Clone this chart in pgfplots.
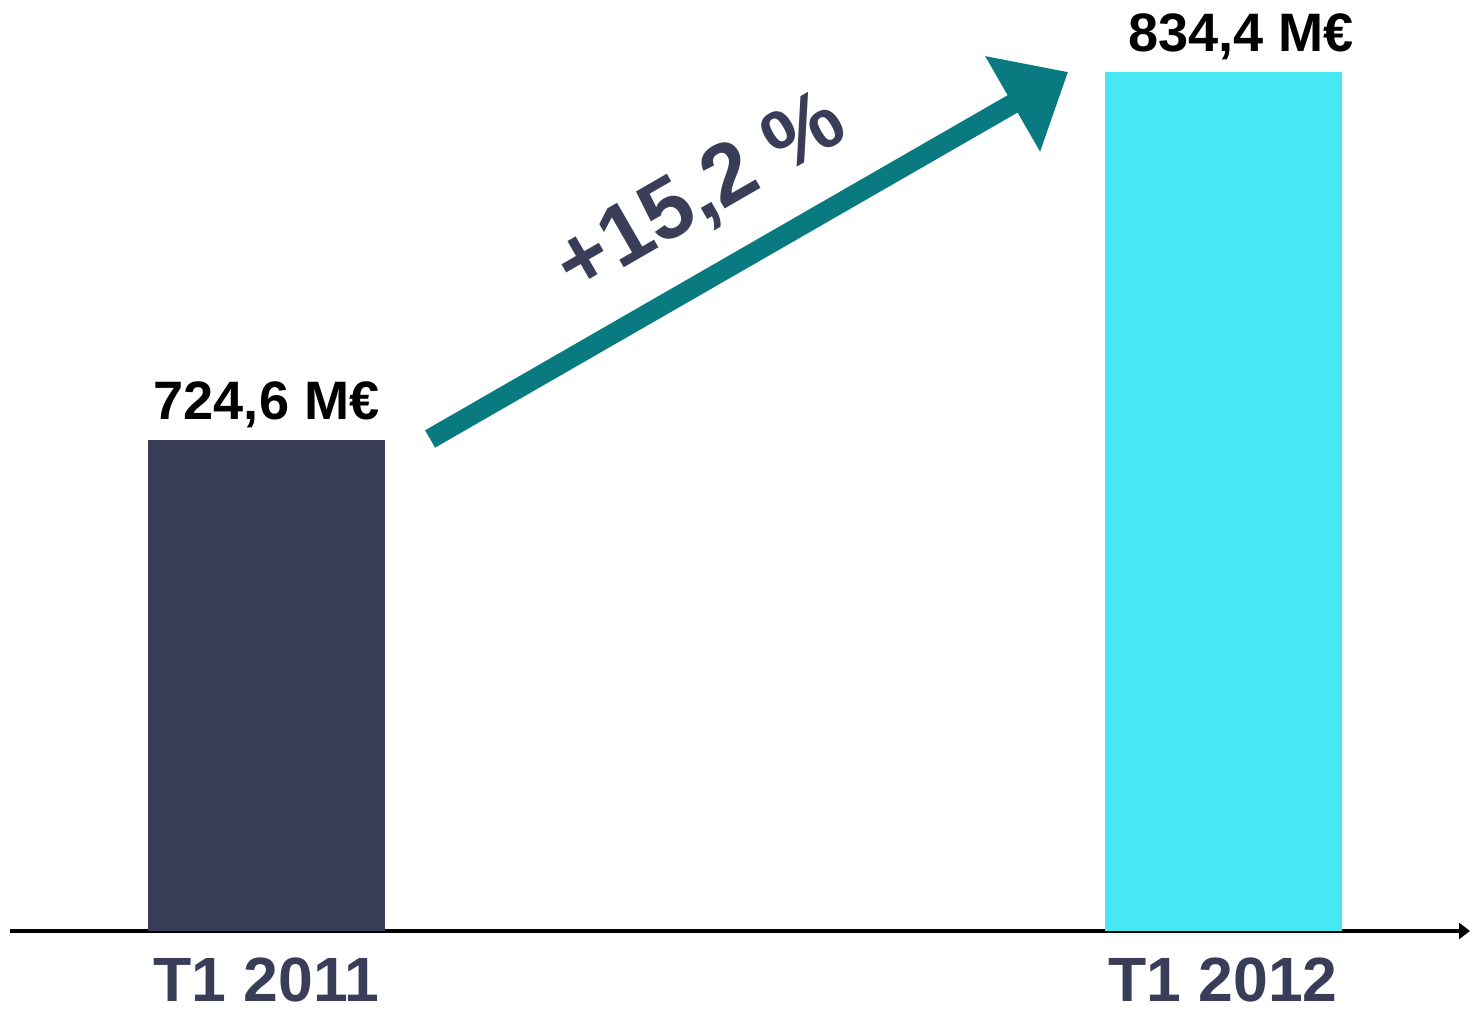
\documentclass[border=0pt]{standalone}
\usepackage{fontspec}
\setmainfont{Liberation Sans}
\usepackage{pgfplots}
\pgfplotsset{compat=1.18}
\usetikzlibrary{arrows.meta}
\definecolor{navy}{RGB}{57,61,88}
\definecolor{cyanbar}{RGB}{69,232,243}
\definecolor{arrowteal}{RGB}{9,123,128}
\begin{document}
\begin{tikzpicture}
\begin{axis}[
    name=ax,
    scale only axis,
    width=146mm, height=85.9mm,
    xmin=-0.2682, xmax=1.2582,
    ymin=578.1, ymax=834.4,
    axis x line*=bottom, axis y line=none,
    x axis line style={line width=1.1pt, -{Triangle[length=1.1mm,width=1.6mm]}},
    xtick={0,1}, xticklabels={T1 2011,T1 2012},
    major tick length=0pt,
    xticklabel style={font=\fontsize{17.8}{20}\selectfont\bfseries, text=navy, yshift=-1.4mm},
    ybar, bar width=23.7mm,
    clip mode=individual,
    nodes near coords={\pgfmathprintnumber[fixed,precision=1,fixed zerofill,use comma]{\pgfplotspointmeta}~M€},
    every node near coord/.append style={font=\fontsize{15.4}{18}\selectfont\bfseries, text=black},
    /pgf/number format/assume math mode=true,
  ]
\addplot[draw=none, fill=navy, bar shift=0pt] coordinates {(0,724.6)};
\addplot[draw=none, fill=cyanbar, bar shift=0pt,
  every node near coord/.append style={xshift=1.8mm}] coordinates {(1,834.4)};

\draw[arrowteal, line width=2mm, -{Triangle[length=6.4mm,width=10.6mm]}]
  (axis cs:0.171,724.9) -- (axis cs:0.838,834.4);
\node[rotate=30, text=navy, font=\fontsize{24.5}{30}\selectfont\bfseries]
  at (axis cs:0.455,797.5) {+15,2~\%};
\end{axis}
\pgfresetboundingbox
\path[use as bounding box] ([shift={(-1mm,-7.8mm)}]ax.south west) rectangle ([shift={(0mm,7.2mm)}]ax.north east);
\end{tikzpicture}
\end{document}
